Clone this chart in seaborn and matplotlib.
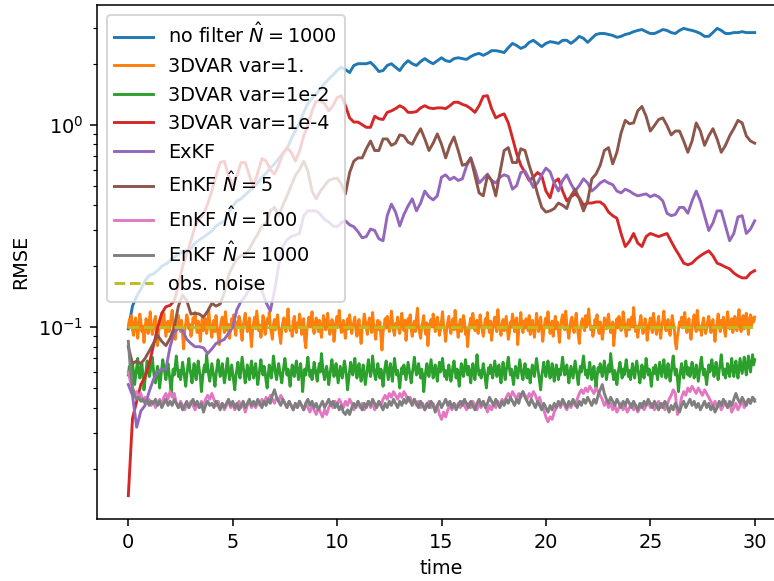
import numpy as np
import matplotlib
matplotlib.use("Agg")
import matplotlib.pyplot as plt
import seaborn as sns

# ---------------- data ----------------
labels = ["no filter $\\hat{N}=1000$", "3DVAR var=1.", "3DVAR var=1e-2",
          "3DVAR var=1e-4", "ExKF", "EnKF $\\hat{N}=5$", "EnKF $\\hat{N}=100$",
          "EnKF $\\hat{N}=1000$", "obs. noise"]

t_start, t_end = 0.0, 30.0

no_filter = [
    0.098, 0.127, 0.142, 0.154, 0.169, 0.180, 0.183, 0.190, 0.200, 0.205,
    0.212, 0.222, 0.228, 0.236, 0.240, 0.245, 0.260, 0.270, 0.278, 0.288,
    0.298, 0.315, 0.326, 0.333, 0.365, 0.395, 0.420, 0.430, 0.450, 0.470,
    0.490, 0.515, 0.550, 0.575, 0.610, 0.640, 0.680, 0.720, 0.760, 0.850,
    0.930, 1.02, 1.15, 1.27, 1.35, 1.42, 1.50, 1.60, 1.68, 1.76,
    1.85, 1.92, 1.87, 1.81, 1.96, 2.00, 2.00, 2.00, 2.03, 1.94,
    1.83, 1.85, 1.96, 2.00, 1.92, 1.85, 1.98, 2.07, 2.00, 1.96,
    2.05, 2.12, 2.05, 2.00, 2.07, 2.14, 2.07, 2.05, 2.12, 2.14,
    2.12, 2.10, 2.17, 2.22, 2.25, 2.20, 2.25, 2.32, 2.32, 2.30,
    2.27, 2.40, 2.52, 2.46, 2.38, 2.43, 2.55, 2.61, 2.52, 2.43,
    2.52, 2.57, 2.55, 2.52, 2.61, 2.61, 2.52, 2.61, 2.73, 2.67,
    2.55, 2.67, 2.79, 2.82, 2.82, 2.79, 2.76, 2.70, 2.73, 2.79,
    2.82, 2.88, 2.92, 2.95, 2.88, 2.82, 2.82, 2.88, 2.95, 2.92,
    2.85, 2.82, 2.92, 2.99, 2.95, 2.92, 2.88, 2.82, 2.73, 2.73,
    2.85, 2.99, 2.92, 2.82, 2.82, 2.85, 2.85, 2.88, 2.85, 2.85,
    2.85]

var1 = [
    0.100, 0.109, 0.103, 0.114, 0.097, 0.091, 0.105, 0.111, 0.099, 0.088, 0.102, 0.116, 0.107, 0.095, 0.101, 0.084, 0.098, 0.110, 0.104, 0.093,
    0.106, 0.119, 0.100, 0.092, 0.097, 0.108, 0.113, 0.096, 0.081, 0.094, 0.103, 0.110, 0.099, 0.105, 0.117, 0.102, 0.090, 0.098, 0.107, 0.095,
    0.101, 0.112, 0.121, 0.104, 0.093, 0.087, 0.099, 0.106, 0.114, 0.100, 0.095, 0.108, 0.092, 0.078, 0.096, 0.104, 0.115, 0.109, 0.098, 0.103,
    0.090, 0.097, 0.111, 0.105, 0.118, 0.101, 0.094, 0.107, 0.099, 0.085, 0.102, 0.113, 0.096, 0.104, 0.110, 0.093, 0.100, 0.122, 0.106, 0.097,
    0.089, 0.103, 0.108, 0.095, 0.114, 0.100, 0.092, 0.082, 0.098, 0.107, 0.112, 0.101, 0.094, 0.119, 0.105, 0.096, 0.103, 0.088, 0.099, 0.110,
    0.104, 0.115, 0.097, 0.091, 0.106, 0.100, 0.113, 0.108, 0.094, 0.086, 0.101, 0.109, 0.117, 0.103, 0.095, 0.099, 0.111, 0.093, 0.080, 0.097,
    0.105, 0.112, 0.098, 0.120, 0.107, 0.096, 0.102, 0.089, 0.100, 0.114, 0.106, 0.092, 0.099, 0.110, 0.104, 0.118, 0.101, 0.094, 0.087, 0.103,
    0.109, 0.097, 0.106, 0.115, 0.100, 0.091, 0.083, 0.098, 0.105, 0.111, 0.102, 0.095, 0.108, 0.123, 0.104, 0.096, 0.100, 0.090, 0.107, 0.113,
    0.099, 0.094, 0.105, 0.101, 0.116, 0.108, 0.092, 0.097, 0.110, 0.086, 0.079, 0.096, 0.103, 0.112, 0.100, 0.107, 0.119, 0.098, 0.093, 0.104,
    0.111, 0.102, 0.095, 0.108, 0.099, 0.089, 0.101, 0.114, 0.106, 0.097, 0.103, 0.117, 0.100, 0.092, 0.098, 0.109, 0.104, 0.085, 0.096, 0.107,
    0.113, 0.100, 0.121, 0.105, 0.094, 0.099, 0.108, 0.096, 0.088, 0.102, 0.110, 0.098, 0.115, 0.103, 0.093, 0.100, 0.106, 0.112, 0.097, 0.090,
    0.101, 0.109, 0.095, 0.083, 0.098, 0.104, 0.116, 0.107, 0.099, 0.092, 0.105, 0.111, 0.100, 0.094, 0.118, 0.103, 0.096, 0.087, 0.101, 0.108,
    0.097, 0.106, 0.089, 0.077, 0.094, 0.102, 0.110, 0.099, 0.113, 0.105, 0.095, 0.101, 0.120, 0.108, 0.096, 0.091, 0.104, 0.100, 0.112, 0.098,
    0.093, 0.105, 0.117, 0.101, 0.096, 0.108, 0.086, 0.099, 0.110, 0.103, 0.115, 0.097, 0.090, 0.102, 0.107, 0.095, 0.111, 0.124, 0.100, 0.094,
    0.088, 0.101, 0.106, 0.114, 0.098, 0.092, 0.105, 0.081, 0.096, 0.103, 0.109, 0.100, 0.116, 0.107, 0.095, 0.099, 0.112, 0.104, 0.091, 0.097,
    0.108, 0.119, 0.102, 0.096, 0.085, 0.099, 0.106, 0.113, 0.100, 0.093, 0.104, 0.110, 0.097, 0.121, 0.105, 0.098, 0.089, 0.102, 0.109, 0.095,
    0.101, 0.114, 0.107, 0.092, 0.098, 0.080, 0.094, 0.103, 0.111, 0.099, 0.117, 0.106, 0.096, 0.100, 0.108, 0.093, 0.102, 0.115, 0.104, 0.097,
    0.090, 0.099, 0.110, 0.103, 0.118, 0.100, 0.094, 0.107, 0.086, 0.097, 0.105, 0.112, 0.101, 0.095, 0.122, 0.106, 0.098, 0.091, 0.103, 0.109,
    0.096, 0.104, 0.113, 0.099, 0.087, 0.093, 0.106, 0.100, 0.116, 0.108, 0.095, 0.102, 0.111, 0.082, 0.097, 0.104, 0.118, 0.101, 0.094, 0.107,
    0.099, 0.110, 0.103, 0.096, 0.114, 0.092, 0.101, 0.108, 0.097, 0.089, 0.100, 0.117, 0.106, 0.095, 0.103, 0.112, 0.098, 0.085, 0.096, 0.105,
    0.111, 0.100, 0.119, 0.104, 0.093, 0.099, 0.107, 0.090, 0.102, 0.113, 0.098, 0.106, 0.095, 0.084, 0.101, 0.109, 0.115, 0.103, 0.097, 0.120,
    0.104, 0.096, 0.088, 0.100, 0.108, 0.112, 0.099, 0.094, 0.105, 0.117, 0.101, 0.092, 0.083, 0.098, 0.106, 0.110, 0.103, 0.096, 0.114, 0.100,
    0.107, 0.123, 0.105, 0.097, 0.101, 0.090, 0.096, 0.109, 0.103, 0.115, 0.099, 0.093, 0.106, 0.100, 0.087, 0.095, 0.111, 0.104, 0.098, 0.108,
    0.116, 0.102, 0.094, 0.100, 0.106, 0.081, 0.093, 0.104, 0.110, 0.099, 0.113, 0.105, 0.096, 0.101, 0.119, 0.107, 0.098, 0.090, 0.103, 0.109,
    0.097, 0.105, 0.112, 0.100, 0.125, 0.108, 0.095, 0.101, 0.089, 0.099, 0.106, 0.114, 0.102, 0.093, 0.098, 0.110, 0.104, 0.086, 0.096, 0.103,
    0.111, 0.100, 0.094, 0.117, 0.106, 0.099, 0.092, 0.104, 0.113, 0.098, 0.088, 0.101, 0.108, 0.120, 0.103, 0.096, 0.100, 0.109, 0.095, 0.091,
    0.102, 0.114, 0.105, 0.098, 0.084, 0.078, 0.090, 0.097, 0.106, 0.101, 0.112, 0.099, 0.107, 0.118, 0.103, 0.094, 0.100, 0.110, 0.096, 0.087,
    0.099, 0.108, 0.115, 0.102, 0.095, 0.121, 0.106, 0.097, 0.101, 0.091, 0.104, 0.111, 0.100, 0.093, 0.098, 0.107, 0.113, 0.103, 0.094, 0.100,
    0.109, 0.096, 0.085, 0.099, 0.105, 0.116, 0.102, 0.095, 0.108, 0.100, 0.112, 0.097, 0.090, 0.103, 0.119, 0.106, 0.098, 0.101, 0.110, 0.094,
    0.100, 0.113, 0.104, 0.096, 0.107, 0.122, 0.101, 0.095, 0.109, 0.114, 0.098, 0.105, 0.117, 0.103, 0.092, 0.108, 0.115, 0.102, 0.111, 0.106,
    0.112]

var1e2 = [
    0.058, 0.064, 0.055, 0.061, 0.067, 0.059, 0.052, 0.057, 0.063, 0.070, 0.060, 0.056, 0.062, 0.066, 0.058, 0.049, 0.055, 0.061, 0.068, 0.063,
    0.057, 0.060, 0.065, 0.071, 0.062, 0.056, 0.053, 0.059, 0.064, 0.058, 0.050, 0.056, 0.062, 0.069, 0.064, 0.059, 0.055, 0.061, 0.066, 0.060,
    0.054, 0.047, 0.056, 0.062, 0.058, 0.065, 0.072, 0.063, 0.057, 0.061, 0.055, 0.060, 0.067, 0.061, 0.056, 0.051, 0.058, 0.064, 0.070, 0.062,
    0.058, 0.053, 0.060, 0.066, 0.059, 0.055, 0.062, 0.068, 0.061, 0.057, 0.048, 0.055, 0.061, 0.065, 0.060, 0.073, 0.064, 0.058, 0.054, 0.060,
    0.066, 0.061, 0.056, 0.051, 0.058, 0.063, 0.069, 0.062, 0.057, 0.060, 0.066, 0.059, 0.053, 0.057, 0.064, 0.070, 0.061, 0.055, 0.060, 0.065,
    0.059, 0.054, 0.049, 0.057, 0.062, 0.067, 0.060, 0.056, 0.063, 0.071, 0.064, 0.058, 0.053, 0.059, 0.065, 0.060, 0.055, 0.062, 0.068, 0.061,
    0.056, 0.061, 0.066, 0.058, 0.052, 0.057, 0.063, 0.069, 0.062, 0.058, 0.064, 0.060, 0.054, 0.050, 0.058, 0.065, 0.061, 0.056, 0.062, 0.072,
    0.065, 0.059, 0.055, 0.060, 0.066, 0.061, 0.057, 0.053, 0.059, 0.064, 0.070, 0.063, 0.058, 0.062, 0.056, 0.051, 0.059, 0.065, 0.060, 0.057,
    0.063, 0.068, 0.061, 0.055, 0.060, 0.066, 0.059, 0.048, 0.056, 0.062, 0.058, 0.064, 0.071, 0.063, 0.057, 0.061, 0.055, 0.060, 0.067, 0.062,
    0.058, 0.054, 0.061, 0.066, 0.060, 0.074, 0.065, 0.059, 0.055, 0.060, 0.064, 0.058, 0.052, 0.057, 0.063, 0.069, 0.062, 0.057, 0.061, 0.066,
    0.059, 0.053, 0.058, 0.064, 0.060, 0.056, 0.062, 0.068, 0.063, 0.057, 0.049, 0.055, 0.061, 0.067, 0.062, 0.058, 0.064, 0.070, 0.061, 0.056,
    0.061, 0.066, 0.059, 0.054, 0.060, 0.065, 0.058, 0.052, 0.057, 0.063, 0.069, 0.062, 0.057, 0.061, 0.072, 0.064, 0.058, 0.055, 0.060, 0.066,
    0.060, 0.056, 0.062, 0.057, 0.051, 0.058, 0.064, 0.068, 0.061, 0.055, 0.060, 0.066, 0.059, 0.054, 0.062, 0.070, 0.063, 0.058, 0.061, 0.056,
    0.050, 0.057, 0.063, 0.059, 0.065, 0.060, 0.055, 0.061, 0.067, 0.062, 0.057, 0.053, 0.059, 0.064, 0.071, 0.063, 0.058, 0.060, 0.066, 0.061,
    0.056, 0.062, 0.058, 0.048, 0.055, 0.061, 0.066, 0.060, 0.057, 0.063, 0.069, 0.062, 0.056, 0.060, 0.065, 0.059, 0.054, 0.061, 0.067, 0.060,
    0.064, 0.070, 0.062, 0.057, 0.061, 0.055, 0.059, 0.065, 0.060, 0.054, 0.058, 0.064, 0.068, 0.061, 0.056, 0.062, 0.057, 0.051, 0.059, 0.066,
    0.061, 0.057, 0.063, 0.069, 0.062, 0.058, 0.064, 0.059, 0.053, 0.060, 0.066, 0.060, 0.055, 0.062, 0.073, 0.064, 0.058, 0.061, 0.056, 0.060,
    0.066, 0.061, 0.055, 0.050, 0.057, 0.063, 0.059, 0.065, 0.060, 0.056, 0.062, 0.068, 0.062, 0.057, 0.060, 0.065, 0.058, 0.053, 0.061, 0.067,
    0.060, 0.055, 0.061, 0.066, 0.071, 0.063, 0.058, 0.062, 0.057, 0.052, 0.059, 0.064, 0.060, 0.056, 0.062, 0.069, 0.063, 0.058, 0.055, 0.061,
    0.066, 0.060, 0.056, 0.062, 0.058, 0.053, 0.060, 0.065, 0.061, 0.057, 0.063, 0.070, 0.064, 0.059, 0.054, 0.049, 0.057, 0.062, 0.067, 0.061,
    0.057, 0.062, 0.068, 0.061, 0.056, 0.060, 0.066, 0.059, 0.054, 0.061, 0.065, 0.060, 0.055, 0.062, 0.058, 0.064, 0.071, 0.063, 0.058, 0.060,
    0.065, 0.059, 0.053, 0.058, 0.064, 0.060, 0.056, 0.062, 0.068, 0.062, 0.057, 0.052, 0.059, 0.064, 0.060, 0.066, 0.072, 0.064, 0.058, 0.061,
    0.056, 0.061, 0.067, 0.060, 0.055, 0.059, 0.064, 0.058, 0.050, 0.057, 0.063, 0.060, 0.066, 0.061, 0.057, 0.062, 0.068, 0.061, 0.055, 0.060,
    0.065, 0.060, 0.074, 0.066, 0.059, 0.055, 0.061, 0.057, 0.052, 0.058, 0.063, 0.067, 0.061, 0.056, 0.062, 0.058, 0.064, 0.069, 0.062, 0.057,
    0.061, 0.055, 0.060, 0.066, 0.060, 0.056, 0.062, 0.068, 0.063, 0.058, 0.053, 0.059, 0.065, 0.060, 0.056, 0.061, 0.070, 0.063, 0.058, 0.062,
    0.057, 0.051, 0.058, 0.063, 0.059, 0.065, 0.060, 0.055, 0.061, 0.067, 0.062, 0.057, 0.063, 0.069, 0.061, 0.056, 0.060, 0.066, 0.059, 0.054,
    0.060, 0.066, 0.072, 0.063, 0.058, 0.062, 0.056, 0.048, 0.055, 0.061, 0.066, 0.060, 0.056, 0.062, 0.068, 0.062, 0.058, 0.063, 0.057, 0.061,
    0.067, 0.061, 0.056, 0.060, 0.065, 0.059, 0.054, 0.060, 0.066, 0.071, 0.063, 0.058, 0.062, 0.057, 0.052, 0.059, 0.065, 0.060, 0.064, 0.069,
    0.062, 0.057, 0.061, 0.067, 0.060, 0.055, 0.061, 0.066, 0.073, 0.064, 0.058, 0.062, 0.056, 0.060, 0.066, 0.061, 0.057, 0.063, 0.070, 0.062,
    0.057, 0.062, 0.068, 0.061, 0.056, 0.063, 0.070, 0.064, 0.059, 0.065, 0.071, 0.063, 0.058, 0.066, 0.072, 0.064, 0.060, 0.067, 0.073, 0.065,
    0.069]

var1e4 = [
    0.0147, 0.0354, 0.043, 0.052, 0.0566, 0.066, 0.0805, 0.099, 0.117, 0.126,
    0.128, 0.135, 0.160, 0.200, 0.230, 0.267, 0.316, 0.342, 0.362, 0.406,
    0.470, 0.560, 0.650, 0.660, 0.560, 0.500, 0.560, 0.650, 0.650, 0.560,
    0.490, 0.580, 0.680, 0.660, 0.600, 0.570, 0.630, 0.720, 0.770, 0.730,
    0.660, 0.740, 0.880, 0.990, 1.17, 1.31, 1.31, 1.27, 1.17, 1.24,
    1.36, 1.39, 1.24, 1.08, 1.03, 1.03, 1.00, 0.97, 0.97, 1.10,
    1.07, 1.06, 1.15, 1.17, 1.20, 1.24, 1.21, 1.15, 1.15, 1.16,
    1.21, 1.24, 1.21, 1.20, 1.21, 1.21, 1.20, 1.24, 1.29, 1.29,
    1.26, 1.24, 1.20, 1.15, 1.24, 1.38, 1.39, 1.20, 1.08, 1.11,
    1.13, 1.02, 0.86, 0.72, 0.63, 0.58, 0.53, 0.55, 0.58, 0.56,
    0.47, 0.435, 0.52, 0.54, 0.47, 0.42, 0.44, 0.455, 0.435, 0.40,
    0.41, 0.41, 0.415, 0.415, 0.40, 0.37, 0.355, 0.345, 0.29, 0.25,
    0.265, 0.29, 0.26, 0.25, 0.28, 0.29, 0.285, 0.28, 0.285, 0.29,
    0.265, 0.243, 0.225, 0.207, 0.203, 0.207, 0.217, 0.225, 0.232, 0.238,
    0.225, 0.207, 0.203, 0.198, 0.194, 0.185, 0.179, 0.175, 0.175, 0.185,
    0.190]

exkf = [
    0.052, 0.046, 0.032, 0.0385, 0.041, 0.048, 0.055, 0.060, 0.062, 0.062,
    0.080, 0.094, 0.099, 0.096, 0.087, 0.083, 0.080, 0.080, 0.079, 0.074,
    0.078, 0.083, 0.085, 0.087, 0.093, 0.100, 0.122, 0.134, 0.142, 0.154,
    0.163, 0.165, 0.151, 0.132, 0.120, 0.151, 0.200, 0.250, 0.270, 0.280,
    0.285, 0.290, 0.355, 0.375, 0.375, 0.375, 0.360, 0.340, 0.330, 0.316,
    0.313, 0.327, 0.335, 0.320, 0.313, 0.296, 0.276, 0.280, 0.305, 0.300,
    0.273, 0.267, 0.355, 0.405, 0.370, 0.316, 0.360, 0.397, 0.430, 0.375,
    0.410, 0.470, 0.440, 0.425, 0.445, 0.550, 0.565, 0.535, 0.550, 0.530,
    0.540, 0.625, 0.685, 0.600, 0.515, 0.540, 0.570, 0.530, 0.515, 0.550,
    0.565, 0.555, 0.480, 0.500, 0.580, 0.590, 0.540, 0.490, 0.515, 0.565,
    0.610, 0.585, 0.515, 0.470, 0.530, 0.565, 0.510, 0.470, 0.500, 0.540,
    0.515, 0.470, 0.490, 0.515, 0.530, 0.515, 0.505, 0.470, 0.460, 0.480,
    0.470, 0.455, 0.445, 0.450, 0.455, 0.440, 0.450, 0.440, 0.420, 0.365,
    0.355, 0.360, 0.390, 0.390, 0.365, 0.420, 0.470, 0.420, 0.355, 0.300,
    0.327, 0.375, 0.375, 0.316, 0.267, 0.290, 0.350, 0.355, 0.290, 0.305,
    0.335]

enkf5 = [
    0.080, 0.066, 0.068, 0.066, 0.070, 0.076, 0.083, 0.091, 0.085, 0.081,
    0.088, 0.100, 0.127, 0.144, 0.135, 0.116, 0.117, 0.116, 0.112, 0.120,
    0.131, 0.127, 0.130, 0.148, 0.180, 0.200, 0.217, 0.225, 0.230, 0.243,
    0.267, 0.288, 0.316, 0.327, 0.375, 0.390, 0.355, 0.400, 0.445, 0.500,
    0.560, 0.600, 0.660, 0.590, 0.470, 0.430, 0.470, 0.500, 0.530, 0.540,
    0.545, 0.510, 0.455, 0.580, 0.660, 0.685, 0.685, 0.760, 0.830, 0.745,
    0.745, 0.850, 0.850, 0.790, 0.810, 0.890, 0.880, 0.820, 0.800, 0.880,
    0.955, 0.850, 0.745, 0.810, 0.900, 0.800, 0.685, 0.790, 0.870, 0.745,
    0.630, 0.640, 0.685, 0.560, 0.460, 0.445, 0.560, 0.530, 0.445, 0.580,
    0.745, 0.770, 0.650, 0.650, 0.760, 0.745, 0.630, 0.545, 0.455, 0.390,
    0.370, 0.375, 0.385, 0.410, 0.400, 0.385, 0.445, 0.480, 0.430, 0.375,
    0.420, 0.540, 0.570, 0.630, 0.745, 0.770, 0.640, 0.730, 0.910, 1.05,
    1.01, 1.02, 1.17, 1.23, 1.10, 0.93, 0.99, 1.06, 1.08, 0.99,
    0.89, 0.93, 0.93, 0.83, 0.73, 0.83, 1.02, 0.93, 0.79, 0.88,
    0.955, 0.85, 0.73, 0.79, 0.88, 0.955, 1.05, 1.02, 0.88, 0.83,
    0.81]

enkf100 = [
    0.060, 0.054, 0.050, 0.047, 0.048, 0.045, 0.047, 0.043, 0.045, 0.042, 0.044, 0.041, 0.043, 0.040, 0.042, 0.044, 0.041, 0.045, 0.047, 0.044,
    0.048, 0.045, 0.047, 0.042, 0.040, 0.043, 0.041, 0.039, 0.042, 0.040, 0.043, 0.041, 0.039, 0.042, 0.040, 0.043, 0.041, 0.044, 0.046, 0.044,
    0.047, 0.044, 0.041, 0.043, 0.040, 0.042, 0.039, 0.041, 0.043, 0.040, 0.042, 0.039, 0.041, 0.043, 0.040, 0.042, 0.038, 0.041, 0.043, 0.040,
    0.042, 0.040, 0.043, 0.041, 0.044, 0.042, 0.045, 0.043, 0.046, 0.044, 0.042, 0.045, 0.043, 0.046, 0.044, 0.042, 0.040, 0.043, 0.041, 0.039,
    0.042, 0.040, 0.043, 0.041, 0.039, 0.042, 0.040, 0.038, 0.041, 0.039, 0.037, 0.040, 0.038, 0.036, 0.039, 0.037, 0.040, 0.042, 0.040, 0.043,
    0.041, 0.044, 0.042, 0.040, 0.043, 0.041, 0.044, 0.042, 0.039, 0.041, 0.043, 0.040, 0.042, 0.039, 0.041, 0.043, 0.040, 0.042, 0.039, 0.041,
    0.043, 0.041, 0.044, 0.046, 0.044, 0.047, 0.045, 0.048, 0.046, 0.044, 0.047, 0.045, 0.048, 0.046, 0.043, 0.045, 0.042, 0.044, 0.041, 0.043,
    0.040, 0.042, 0.039, 0.041, 0.043, 0.040, 0.042, 0.039, 0.041, 0.037, 0.035, 0.038, 0.036, 0.039, 0.041, 0.039, 0.042, 0.040, 0.042, 0.040,
    0.043, 0.041, 0.039, 0.042, 0.040, 0.043, 0.041, 0.039, 0.042, 0.040, 0.043, 0.041, 0.038, 0.041, 0.039, 0.042, 0.040, 0.043, 0.041, 0.044,
    0.042, 0.045, 0.047, 0.045, 0.048, 0.046, 0.044, 0.047, 0.045, 0.048, 0.046, 0.044, 0.047, 0.045, 0.048, 0.046, 0.043, 0.045, 0.041, 0.039,
    0.036, 0.034, 0.036, 0.035, 0.038, 0.040, 0.042, 0.040, 0.043, 0.041, 0.039, 0.042, 0.040, 0.043, 0.041, 0.044, 0.047, 0.049, 0.047, 0.050,
    0.048, 0.051, 0.049, 0.047, 0.050, 0.048, 0.046, 0.044, 0.041, 0.043, 0.040, 0.042, 0.039, 0.041, 0.038, 0.040, 0.042, 0.039, 0.041, 0.038,
    0.040, 0.042, 0.039, 0.041, 0.038, 0.040, 0.042, 0.039, 0.041, 0.043, 0.040, 0.042, 0.039, 0.041, 0.043, 0.040, 0.042, 0.039, 0.041, 0.044,
    0.046, 0.049, 0.047, 0.037, 0.040, 0.045, 0.048, 0.046, 0.050, 0.048, 0.051, 0.049, 0.047, 0.050, 0.048, 0.046, 0.049, 0.047, 0.045, 0.043,
    0.041, 0.043, 0.040, 0.042, 0.039, 0.041, 0.043, 0.040, 0.042, 0.038, 0.040, 0.042, 0.039, 0.041, 0.043, 0.040, 0.042, 0.044, 0.042, 0.045,
    0.044]

enkf1000 = [
    0.085, 0.062, 0.050, 0.046, 0.044, 0.045, 0.043, 0.044, 0.042, 0.044, 0.041, 0.043, 0.042, 0.044, 0.041, 0.043, 0.040, 0.042, 0.044, 0.041,
    0.043, 0.041, 0.044, 0.042, 0.040, 0.042, 0.039, 0.041, 0.043, 0.040, 0.042, 0.044, 0.041, 0.043, 0.040, 0.042, 0.038, 0.041, 0.043, 0.041,
    0.042, 0.040, 0.043, 0.041, 0.039, 0.042, 0.040, 0.042, 0.044, 0.041, 0.043, 0.040, 0.042, 0.039, 0.041, 0.043, 0.040, 0.042, 0.044, 0.041,
    0.043, 0.041, 0.044, 0.042, 0.040, 0.043, 0.041, 0.044, 0.042, 0.046, 0.049, 0.045, 0.043, 0.041, 0.044, 0.042, 0.040, 0.043, 0.041, 0.039,
    0.042, 0.040, 0.043, 0.041, 0.039, 0.042, 0.044, 0.041, 0.043, 0.040, 0.042, 0.039, 0.041, 0.043, 0.040, 0.042, 0.044, 0.041, 0.043, 0.040,
    0.042, 0.039, 0.041, 0.038, 0.037, 0.039, 0.037, 0.040, 0.042, 0.040, 0.043, 0.041, 0.039, 0.042, 0.040, 0.043, 0.041, 0.044, 0.042, 0.040,
    0.043, 0.041, 0.039, 0.042, 0.040, 0.043, 0.041, 0.044, 0.042, 0.040, 0.043, 0.041, 0.044, 0.042, 0.045, 0.043, 0.041, 0.044, 0.042, 0.040,
    0.043, 0.041, 0.039, 0.042, 0.040, 0.043, 0.041, 0.038, 0.041, 0.043, 0.040, 0.042, 0.044, 0.041, 0.043, 0.040, 0.042, 0.039, 0.041, 0.043,
    0.041, 0.044, 0.042, 0.040, 0.043, 0.041, 0.039, 0.042, 0.044, 0.041, 0.043, 0.040, 0.042, 0.045, 0.043, 0.041, 0.044, 0.042, 0.040, 0.043,
    0.041, 0.044, 0.042, 0.045, 0.043, 0.041, 0.044, 0.042, 0.046, 0.048, 0.045, 0.043, 0.041, 0.044, 0.042, 0.040, 0.043, 0.041, 0.039, 0.042,
    0.040, 0.038, 0.041, 0.039, 0.042, 0.040, 0.043, 0.041, 0.044, 0.042, 0.040, 0.043, 0.041, 0.044, 0.042, 0.040, 0.043, 0.041, 0.044, 0.042,
    0.045, 0.043, 0.041, 0.044, 0.042, 0.046, 0.049, 0.052, 0.047, 0.044, 0.042, 0.045, 0.043, 0.041, 0.044, 0.042, 0.040, 0.043, 0.041, 0.044,
    0.042, 0.040, 0.043, 0.041, 0.039, 0.042, 0.040, 0.043, 0.041, 0.044, 0.042, 0.040, 0.043, 0.041, 0.039, 0.042, 0.040, 0.043, 0.041, 0.038,
    0.041, 0.039, 0.042, 0.040, 0.038, 0.041, 0.043, 0.040, 0.042, 0.044, 0.041, 0.043, 0.040, 0.042, 0.039, 0.041, 0.043, 0.040, 0.042, 0.039,
    0.041, 0.038, 0.040, 0.043, 0.041, 0.044, 0.042, 0.040, 0.043, 0.041, 0.044, 0.047, 0.044, 0.042, 0.045, 0.043, 0.041, 0.044, 0.042, 0.045,
    0.043]

obs_noise = 0.1

# ---------------- figure ----------------
W, H, DPI = 774, 581, 139
fig = plt.figure(figsize=(W / DPI, H / DPI), dpi=DPI)
ax = fig.add_axes([97 / W, 62 / H, 689 / W, 514 / H])

series = [no_filter, var1, var1e2, var1e4, exkf, enkf5, enkf100, enkf1000]
colors = ["C0", "C1", "C2", "C3", "C4", "C5", "C6", "C7"]
for vals, lab, col in zip(series, labels[:-1], colors):
    t = np.linspace(t_start, t_end, len(vals))
    sns.lineplot(x=t, y=vals, ax=ax, color=col, label=lab, linewidth=1.5)

sns.lineplot(x=[t_start, t_end], y=[obs_noise, obs_noise], ax=ax, color="C8",
             linestyle="--", label=labels[-1], linewidth=1.5)

ax.set_yscale("log")
ax.set_xlabel("time")
ax.set_ylabel("RMSE")
ax.set_xticks([0, 5, 10, 15, 20, 25, 30])
ax.legend(loc="upper left")

fig.savefig("out.png", dpi=DPI)
